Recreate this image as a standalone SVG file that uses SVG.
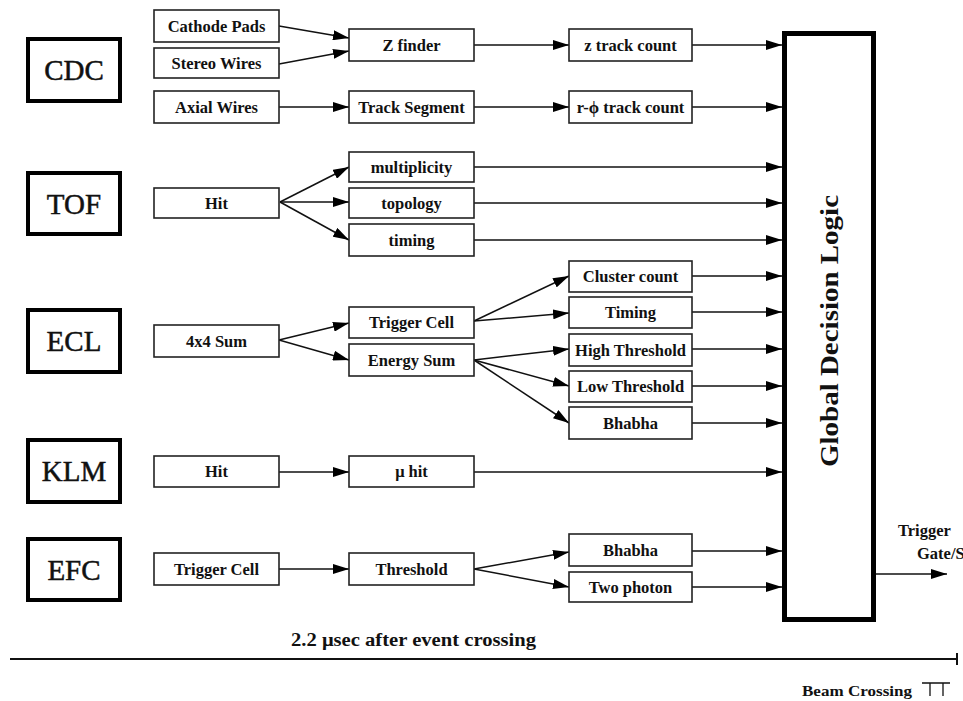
<svg xmlns="http://www.w3.org/2000/svg" width="963" height="701" viewBox="0 0 963 701">
<style>
.det{fill:#fff;stroke:#000;stroke-width:4}
.box{fill:#fff;stroke:#222;stroke-width:1.6}
.big{font-family:"Liberation Serif",serif;font-size:29px;fill:#111;stroke:#111;stroke-width:0.5;text-anchor:middle}
.lbl{font-family:"Liberation Serif",serif;font-size:16.5px;font-weight:bold;fill:#111;text-anchor:middle}
.free{font-family:"Liberation Serif",serif;font-weight:bold;fill:#111}
.c line{stroke:#111;stroke-width:1.5;marker-end:url(#ah)}
</style>
<defs>
<marker id="ah" viewBox="0 0 16 10" refX="16" refY="5" markerWidth="16" markerHeight="10" markerUnits="userSpaceOnUse" orient="auto">
<path d="M0,0 L16,5 L0,10 Z" fill="#000"/>
</marker>
</defs>
<rect width="963" height="701" fill="#fff"/>

<g class="c" id="connectors">
<line x1="279" y1="26" x2="349" y2="38"/>
<line x1="279" y1="64" x2="349" y2="51"/>
<line x1="279" y1="107" x2="349" y2="107"/>
<line x1="474" y1="45" x2="569" y2="45"/>
<line x1="474" y1="107" x2="569" y2="107"/>
<line x1="692" y1="45" x2="782" y2="45"/>
<line x1="692" y1="107" x2="782" y2="107"/>
<line x1="280" y1="202" x2="349" y2="167"/>
<line x1="280" y1="202" x2="349" y2="202"/>
<line x1="280" y1="202" x2="349" y2="240"/>
<line x1="474" y1="167" x2="782" y2="167"/>
<line x1="474" y1="203" x2="782" y2="203"/>
<line x1="474" y1="240" x2="782" y2="240"/>
<line x1="279" y1="340" x2="349" y2="323"/>
<line x1="279" y1="340" x2="349" y2="360"/>
<line x1="474" y1="321" x2="569" y2="276"/>
<line x1="474" y1="321" x2="569" y2="313"/>
<line x1="474" y1="360" x2="569" y2="349"/>
<line x1="474" y1="360" x2="569" y2="386"/>
<line x1="474" y1="360" x2="569" y2="423"/>
<line x1="692" y1="276" x2="782" y2="276"/>
<line x1="692" y1="312" x2="782" y2="312"/>
<line x1="692" y1="349" x2="782" y2="349"/>
<line x1="692" y1="386" x2="782" y2="386"/>
<line x1="692" y1="423" x2="782" y2="423"/>
<line x1="279" y1="472" x2="349" y2="472"/>
<line x1="474" y1="472" x2="782" y2="472"/>
<line x1="279" y1="569" x2="349" y2="569"/>
<line x1="474" y1="569" x2="569" y2="552"/>
<line x1="474" y1="569" x2="569" y2="587"/>
<line x1="692" y1="551" x2="782" y2="551"/>
<line x1="692" y1="587" x2="782" y2="587"/>
<line x1="876" y1="574" x2="947" y2="574"/>
</g>

<g id="cdc"><rect class="det" x="28" y="39" width="92" height="62"/><text class="big" x="74" y="80">CDC</text></g>
<g id="tof"><rect class="det" x="28" y="173" width="92" height="61"/><text class="big" x="74" y="214">TOF</text></g>
<g id="ecl"><rect class="det" x="28" y="310" width="92" height="62"/><text class="big" x="74" y="351">ECL</text></g>
<g id="klm"><rect class="det" x="28" y="440" width="92" height="62"/><text class="big" x="74" y="481">KLM</text></g>
<g id="efc"><rect class="det" x="28" y="539" width="92" height="61"/><text class="big" x="74" y="580">EFC</text></g>

<g id="cathode"><rect class="box" x="154" y="10" width="125" height="32"/><text class="lbl" x="216.5" y="32">Cathode Pads</text></g>
<g id="stereo"><rect class="box" x="154" y="48" width="125" height="30"/><text class="lbl" x="216.5" y="69">Stereo Wires</text></g>
<g id="axial"><rect class="box" x="154" y="91" width="125" height="32"/><text class="lbl" x="216.5" y="113">Axial Wires</text></g>
<g id="zfinder"><rect class="box" x="349" y="29" width="125" height="32"/><text class="lbl" x="411.5" y="51">Z finder</text></g>
<g id="trackseg"><rect class="box" x="349" y="91" width="125" height="32"/><text class="lbl" x="411.5" y="113">Track Segment</text></g>
<g id="ztrack"><rect class="box" x="569" y="29" width="123" height="32"/><text class="lbl" x="630.5" y="51">z track count</text></g>
<g id="rphi"><rect class="box" x="569" y="91" width="123" height="32"/><text class="lbl" x="630.5" y="113">r-ϕ track count</text></g>

<g id="tofhit"><rect class="box" x="154" y="188" width="125" height="30"/><text class="lbl" x="216.5" y="209">Hit</text></g>
<g id="mult"><rect class="box" x="349" y="152" width="125" height="30"/><text class="lbl" x="411.5" y="173">multiplicity</text></g>
<g id="topo"><rect class="box" x="349" y="188" width="125" height="30"/><text class="lbl" x="411.5" y="209">topology</text></g>
<g id="timing"><rect class="box" x="349" y="224" width="125" height="32"/><text class="lbl" x="411.5" y="246">timing</text></g>

<g id="sum4x4"><rect class="box" x="154" y="325" width="125" height="32"/><text class="lbl" x="216.5" y="347">4x4 Sum</text></g>
<g id="trigcell"><rect class="box" x="349" y="307" width="125" height="31"/><text class="lbl" x="411.5" y="328">Trigger Cell</text></g>
<g id="esum"><rect class="box" x="349" y="344" width="125" height="32"/><text class="lbl" x="411.5" y="366">Energy Sum</text></g>
<g id="cluster"><rect class="box" x="569" y="261" width="123" height="31"/><text class="lbl" x="630.5" y="282">Cluster count</text></g>
<g id="ecltiming"><rect class="box" x="569" y="297" width="123" height="31"/><text class="lbl" x="630.5" y="318">Timing</text></g>
<g id="highth"><rect class="box" x="569" y="334" width="123" height="32"/><text class="lbl" x="630.5" y="356">High Threshold</text></g>
<g id="lowth"><rect class="box" x="569" y="371" width="123" height="31"/><text class="lbl" x="630.5" y="392">Low Threshold</text></g>
<g id="eclbhabha"><rect class="box" x="569" y="407" width="123" height="32"/><text class="lbl" x="630.5" y="429">Bhabha</text></g>

<g id="klmhit"><rect class="box" x="154" y="456" width="125" height="31"/><text class="lbl" x="216.5" y="477">Hit</text></g>
<g id="muhit"><rect class="box" x="349" y="456" width="125" height="31"/><text class="lbl" x="411.5" y="477">μ hit</text></g>

<g id="efctrig"><rect class="box" x="154" y="553" width="125" height="32"/><text class="lbl" x="216.5" y="575">Trigger Cell</text></g>
<g id="threshold"><rect class="box" x="349" y="553" width="125" height="32"/><text class="lbl" x="411.5" y="575">Threshold</text></g>
<g id="efcbhabha"><rect class="box" x="569" y="534" width="123" height="32"/><text class="lbl" x="630.5" y="556">Bhabha</text></g>
<g id="twophoton"><rect class="box" x="569" y="572" width="123" height="30"/><text class="lbl" x="630.5" y="593">Two photon</text></g>

<g id="gdl"><rect x="784.5" y="33.5" width="89" height="586" fill="#fff" stroke="#000" stroke-width="5"/>
<text class="free" transform="translate(838,331) rotate(-90)" text-anchor="middle" font-size="26" textLength="272" lengthAdjust="spacingAndGlyphs">Global Decision Logic</text></g>

<g id="output"><text class="free" x="898" y="536" font-size="16.5">Trigger</text><text class="free" x="917" y="559" font-size="16.5">Gate/S</text></g>

<g id="timeline">
<line x1="10" y1="659" x2="957" y2="659" stroke="#111" stroke-width="2"/>
<line x1="957" y1="653" x2="957" y2="665" stroke="#111" stroke-width="2"/>
<text class="free" x="291" y="646" font-size="18" textLength="245" lengthAdjust="spacingAndGlyphs">2.2 μsec after event crossing</text>
<text class="free" x="802" y="696" font-size="15" textLength="110" lengthAdjust="spacingAndGlyphs">Beam Crossing</text>
<path d="M922,683 H950 M930,683 V696 M943,683 V696" stroke="#111" stroke-width="1.3" fill="none"/>
</g>
</svg>
